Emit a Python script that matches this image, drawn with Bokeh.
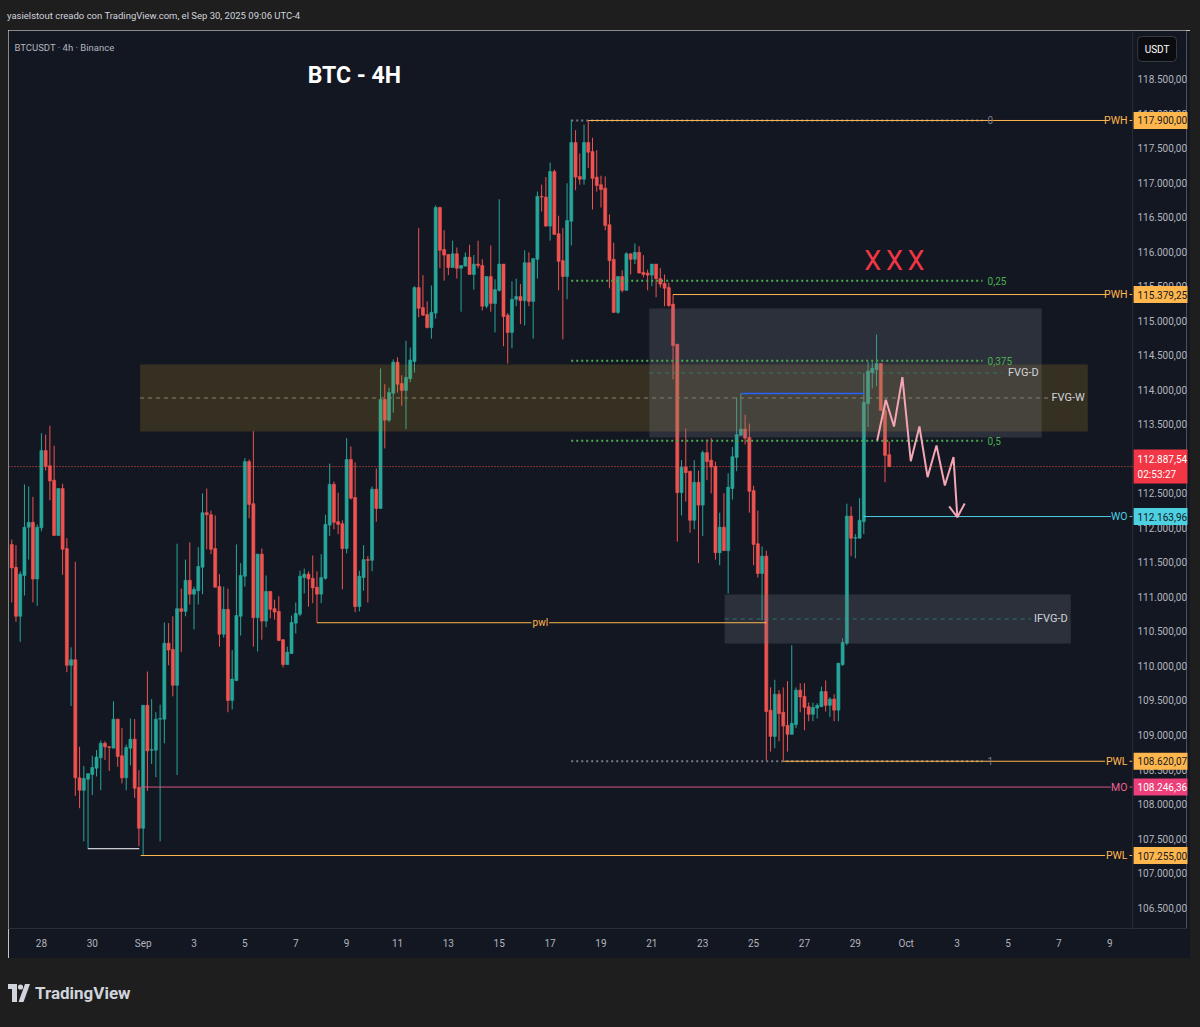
import numpy as np
from bokeh.plotting import figure
from bokeh.models import Label, FixedTicker, Div, Span
from bokeh.layouts import column, row
from bokeh.embed import file_html
from bokeh.resources import INLINE
from bokeh.core.properties import value

FONT = "Roboto"

# ---------------- DATA (BTCUSDT 4h, Binance) ----------------
# first candle: Aug 26 20:00 (UTC-4), one candle every 4 hours
opens = [111760, 111430, 110720, 111310, 112010, 112080, 111260, 112000, 113120, 112900,
         112690, 111890, 112570, 111700, 110010, 110090, 108380, 108200, 108360, 108430,
         108520, 108670, 108880, 108830, 108810, 109230, 108700, 108380, 108810, 108940,
         108240, 107650, 109430, 108780, 108780, 109230, 109230, 110330, 110240, 109720,
         110830, 110790, 111240, 111040, 111090, 111430, 112220, 112190, 111700, 111150,
         110460, 110820, 109500, 109790, 110720, 111300, 112960, 112350, 110700, 111620,
         110650, 111080, 110830, 110790, 110380, 110020, 110180, 110620, 110750, 111280,
         111330, 111270, 111140, 111040, 111270, 112040, 112630, 112090, 112060, 111700,
         112990, 112440, 110860, 111280, 111540, 111530, 112560, 112280, 113860, 113560,
         113950, 114400, 114090, 113990, 114160, 114410, 115480, 115190, 115090, 114900,
         115110, 116640, 116030, 115960, 115770, 115970, 115760, 115790, 115920, 115670,
         115820, 115800, 115210, 115640, 115250, 115440, 115820, 115080, 114830, 115310,
         115350, 115290, 115840, 115280, 115890, 116800, 116790, 116370, 117160, 116260,
         115870, 115640, 116440, 117580, 117090, 117050, 117580, 117450, 117080, 116970,
         116920, 116390, 115890, 115120, 115640, 115440, 115970, 115890, 115990, 115700,
         115690, 115660, 115820, 115610, 115540, 115480, 115240, 114660, 112510, 112880,
         112820, 112110, 112660, 112330, 113090, 112980, 112890, 111640, 112010, 111670,
         112570, 113020, 113340, 113430, 113310, 112540, 111770, 111340, 111590, 109360,
         108980, 109590, 109330, 109140, 109010, 109150, 109650, 109560, 109410, 109300,
         109390, 109410, 109630, 109430, 109520, 109360, 110020, 110330, 112170, 111850,
         111850, 112090, 113800, 114250, 114290, 114380, 113700, 113060]
highs = [111830, 111750, 111370, 112630, 112600, 112450, 112050, 113370, 113350, 113480,
         113190, 112570, 112640, 111850, 110270, 111510, 108830, 108550, 108450, 108700,
         108780, 108920, 108910, 108840, 109490, 109230, 109100, 108860, 109240, 109230,
         108490, 109430, 109920, 109520, 109330, 109440, 110630, 110620, 110720, 111770,
         111120, 111540, 111790, 111150, 111720, 112500, 112570, 112250, 112180, 111330,
         111150, 111120, 110230, 111760, 111490, 113010, 112990, 113400, 111620, 111700,
         111310, 111080, 110960, 111010, 110390, 110280, 110730, 110920, 111380, 111410,
         111370, 111600, 111370, 111620, 112190, 112930, 112670, 112510, 112110, 113300,
         113180, 112950, 111380, 111750, 111590, 112600, 112860, 114310, 114080, 114030,
         114440, 114470, 114210, 114710, 114610, 115500, 116340, 115660, 115280, 115510,
         116670, 116650, 116310, 115960, 116160, 116060, 115800, 115990, 116100, 115950,
         116160, 115890, 115640, 116090, 115600, 116760, 115820, 115110, 115570, 115610,
         115530, 116020, 115990, 115900, 116870, 116970, 117080, 117290, 117190, 116520,
         116340, 116990, 117910, 117760, 117420, 117840, 117900, 117650, 117470, 117100,
         117090, 116540, 116130, 115640, 115730, 115990, 115970, 116120, 116080, 115950,
         115740, 115820, 115820, 115760, 115670, 115550, 115380, 114660, 112980, 113440,
         112820, 112980, 112830, 113120, 113280, 113300, 112960, 112220, 112500, 112790,
         113170, 113890, 113950, 113640, 113510, 112610, 112250, 111730, 111670, 109690,
         109800, 109650, 109690, 109780, 110300, 109690, 109750, 109750, 109470, 109470,
         109460, 109700, 109790, 109550, 109590, 110040, 110400, 112350, 112310, 111910,
         112430, 114240, 114400, 114400, 114800, 114380, 113850, 113250]
lows = [110920, 110640, 110350, 111020, 111540, 110920, 110870, 111950, 112830, 112400,
        111890, 111880, 111320, 109910, 109420, 108120, 107940, 107460, 107350, 108130,
        108400, 108200, 108640, 108480, 108810, 108540, 108300, 108200, 108560, 108090,
        107390, 107255, 108190, 108580, 108390, 107460, 108880, 110010, 109560, 108420,
        110200, 110720, 110890, 110530, 110890, 111040, 111690, 111620, 111140, 110280,
        110410, 109330, 109370, 109780, 110440, 111150, 112140, 110280, 110210, 110380,
        110560, 110690, 110670, 110360, 109980, 110020, 110180, 110470, 110720, 111050,
        110860, 110910, 110630, 110910, 111250, 111880, 111980, 111910, 111110, 111630,
        112410, 110780, 110790, 111090, 110920, 111370, 112090, 112280, 113150, 113530,
        113670, 113960, 113770, 113430, 114110, 114250, 115050, 115070, 114890, 114740,
        115030, 115760, 115580, 115660, 115770, 115610, 115130, 115790, 115670, 115450,
        115760, 115150, 115180, 115130, 114830, 115420, 114630, 114380, 114600, 115210,
        114950, 114930, 115210, 114740, 115610, 116580, 116360, 116160, 116250, 115440,
        114730, 115310, 116090, 116890, 116970, 116970, 117210, 116610, 116870, 116640,
        116310, 115470, 115120, 115100, 115410, 115440, 115670, 115820, 115690, 115630,
        115440, 115500, 115340, 115480, 115210, 115200, 114150, 111800, 112180, 112380,
        111930, 111980, 111490, 111880, 112690, 112500, 111540, 111460, 111670, 111050,
        112410, 112820, 113340, 113210, 112220, 111460, 111280, 110660, 108630, 108760,
        108810, 108910, 108620, 108760, 109010, 109100, 109330, 109070, 109200, 109200,
        109240, 109410, 109340, 109260, 109200, 109200, 110000, 110300, 111590, 111560,
        111850, 111910, 113460, 114020, 114050, 113700, 112660, 112880]
closes = [111420, 110720, 111330, 112010, 112080, 111260, 112010, 113120, 112890, 112680,
          111890, 112570, 111690, 110010, 110090, 108380, 108200, 108370, 108440, 108530,
          108680, 108880, 108830, 108820, 109230, 108690, 108380, 108820, 108940, 108230,
          107650, 109430, 108770, 108790, 109230, 109240, 110330, 110230, 109720, 110830,
          110790, 111240, 111040, 111110, 111440, 112220, 112190, 111690, 111140, 110460,
          110820, 109500, 109810, 110730, 111310, 112960, 112340, 110700, 111620, 110650,
          111080, 110820, 110780, 110370, 110020, 110200, 110630, 110760, 111300, 111330,
          111260, 111130, 111040, 111280, 112050, 112630, 112080, 112050, 111700, 112990,
          112430, 110860, 111300, 111540, 111530, 112560, 112280, 113860, 113560, 113960,
          114400, 114080, 113990, 114180, 114430, 115480, 115180, 115080, 114900, 115120,
          116640, 116020, 115950, 115770, 115970, 115760, 115800, 115920, 115670, 115820,
          115800, 115210, 115640, 115250, 115450, 115820, 115060, 114830, 115310, 115350,
          115290, 115840, 115280, 115900, 116800, 116790, 116370, 117160, 116250, 115860,
          115640, 116450, 117580, 117080, 117050, 117580, 117440, 117060, 116960, 116900,
          116380, 115870, 115120, 115640, 115440, 115970, 115890, 115990, 115690, 115670,
          115660, 115820, 115610, 115530, 115470, 115220, 114640, 112510, 112880, 112800,
          112110, 112660, 112330, 113090, 112960, 112880, 111640, 112010, 111670, 112590,
          113030, 113350, 113430, 113300, 112530, 111760, 111340, 111590, 109340, 108980,
          109590, 109310, 109130, 109010, 109170, 109650, 109550, 109400, 109300, 109400,
          109430, 109630, 109430, 109520, 109360, 110040, 110340, 112170, 111850, 111860,
          112110, 113820, 114270, 114310, 114380, 113700, 113050, 112887.54]

first_bar_day = -31 / 6          # days relative to Sep 1 00:00 (UTC-4)
bar_hours = 4
last_price = 112887.54
countdown = "02:53:27"

time_tick_days = [-4, -2, 0, 2, 4, 6, 8, 10, 12, 14, 16, 18, 20, 22, 24, 26, 28, 30, 32, 34, 36, 38]
time_tick_labels = ["28", "30", "Sep", "3", "5", "7", "9", "11", "13", "15", "17", "19",
                    "21", "23", "25", "27", "29", "Oct", "3", "5", "7", "9"]
price_ticks = list(range(106500, 118501, 500))

# key levels (name, price, day they start)
level_names = ["PWH", "PWH", "WO", "PWL", "MO", "PWL"]
level_prices = [117900.00, 115379.25, 112163.96, 108620.07, 108246.36, 107255.00]
level_from_days = [17.5, 20.83, 28.33, 25.17, -0.1, -0.1]

# fibonacci retracement
fib_ratios = [0, 0.25, 0.375, 0.5, 1]
fib_texts = ["0", "0,25", "0,375", "0,5", "1"]
fib_high = 117900.00
fib_low = 108620.07
fib_from_day, fib_to_day = 16.83, 33.0

# zones
zone_names = ["FVG-W", "FVG-D", "IFVG-D"]
zone_bottoms = [113396, 113309, 110326]
zone_tops = [114366, 115177, 111036]
zone_from_days = [-0.12, 19.9, 22.86]
zone_to_days = [37.14, 35.33, 36.47]

# other drawings
pwl_price, pwl_from_day, pwl_to_day = 110626, 6.83, 24.5
low_link_price, low_link_from, low_link_to = 107353, -2.17, -0.15
blue_price, blue_from, blue_to = 113947, 23.53, 28.35
proj_days = [28.86, 29.20, 29.52, 29.85, 30.18, 30.52, 30.84, 31.19, 31.52, 31.86, 32.01]
proj_prices = [113266, 113855, 113468, 114182, 112966, 113468, 112734, 113193, 112614, 113024, 112155]
arrow_days = [31.69, 32.01, 32.30]
arrow_prices = [112310, 112155, 112353]
x_marks_days = [28.68, 29.54, 30.38]
x_marks_price = 115858

# ---------------- STYLE ----------------
BG = "#131722"
UP, DOWN = "#26a69a", "#ef5350"
ORANGE, CYAN, PINK = "#ffb74d", "#4dd0e1", "#ec407a"
AXIS_TXT = "#b2b5be"
SCALE_EDGE = 38.902       # day value at the price-scale border
PX_DAY = 25.5             # pixels per day
PX_PRICE = 14.482         # price units per pixel


def fmt(v):
    s = f"{v:,.2f}"
    return s.replace(",", "#").replace(".", ",").replace("#", ".")


p = figure(width=1182, height=928, x_range=(-5.294, 41.02), y_range=(106198, 119203),
           output_backend="svg", toolbar_location=None, y_axis_location="right",
           background_fill_color=BG, border_fill_color=BG, outline_line_color=None,
           min_border_left=0, min_border_right=0, min_border_top=0, min_border_bottom=30)
p.xgrid.visible = False
p.ygrid.visible = False

for ax in (p.xaxis[0], p.yaxis[0]):
    ax.major_tick_line_color = None
    ax.minor_tick_line_color = None
    ax.major_tick_out = 0
    ax.major_tick_in = 0
    ax.minor_tick_out = 0
    ax.minor_tick_in = 0
    ax.major_label_text_color = AXIS_TXT
    ax.major_label_text_font = FONT
    ax.major_label_text_font_size = "10px"
p.xaxis.axis_line_color = "#2a2e39"
p.xaxis.major_label_standoff = 9
p.yaxis.axis_line_color = None
p.yaxis.major_label_standoff = -49
p.xaxis.ticker = FixedTicker(ticks=time_tick_days)
p.xaxis.major_label_overrides = {d: s for d, s in zip(time_tick_days, time_tick_labels)}
p.yaxis.ticker = FixedTicker(ticks=price_ticks)
p.yaxis.major_label_overrides = {v: fmt(v) for v in price_ticks}
p.add_layout(Span(location=SCALE_EDGE, dimension="height", line_color="#2a2e39", line_width=1))

# candles
o = np.array(opens, float); h = np.array(highs, float)
l = np.array(lows, float); c = np.array(closes, float)
t = first_bar_day + np.arange(len(o)) * bar_hours / 24
cols = np.where(c >= o, UP, DOWN)
p.segment(t, h, t, l, color=cols, line_width=1)
p.vbar(x=t, width=0.12, top=np.maximum(o, c), bottom=np.minimum(o, c),
       fill_color=cols, line_color=cols, line_width=0.6)

# zones
zone_fill = {"FVG-W": ("#bd9422", 0.2), "FVG-D": ("#787b86", 0.25), "IFVG-D": ("#787b86", 0.25)}
zone_mid = {"FVG-W": ("#8c8466", 1.0), "FVG-D": ("#26a69a", 0.55), "IFVG-D": ("#26a69a", 0.55)}
for name, b, tp, f0, f1 in zip(zone_names, zone_bottoms, zone_tops, zone_from_days, zone_to_days):
    fc, fa = zone_fill[name]
    p.quad(left=f0, right=f1, bottom=b, top=tp, fill_color=fc, fill_alpha=fa, line_color=None)
    mc, ma = zone_mid[name]
    mid = (b + tp) / 2
    p.line([f0, f1 - 1.55], [mid, mid], line_color=mc, line_alpha=ma, line_dash="4 4", line_width=1)
    p.add_layout(Label(x=f1 - 0.12, y=mid, text=name, text_align="right", text_baseline="middle",
                       text_color="#d1d4dc", text_font=FONT, text_font_size="11px"))

# fib levels
for r, txt in zip(fib_ratios, fib_texts):
    lv = fib_high - r * (fib_high - fib_low)
    colr = "#787b86" if r in (0, 1) else "#4caf50"
    p.line([fib_from_day, fib_to_day], [lv, lv], line_color=colr, line_dash="2 3", line_width=2)
    p.add_layout(Label(x=fib_to_day + 0.2, y=lv, text=txt, text_align="left", text_baseline="middle",
                       text_color=colr, text_font=FONT, text_font_size="10px"))

# other lines
p.line([pwl_from_day, pwl_to_day], [pwl_price, pwl_price], line_color=ORANGE, line_width=1)
p.add_layout(Label(x=(pwl_from_day + pwl_to_day) / 2 - 0.05, y=pwl_price, text="pwl", text_align="center",
                   text_baseline="middle", text_color=ORANGE, text_font=FONT, text_font_size="10px",
                   background_fill_color=BG, padding=1))
p.line([low_link_from, low_link_to], [low_link_price, low_link_price], line_color="#ffffff", line_width=1)
p.line([blue_from, blue_to], [blue_price, blue_price], line_color="#2962ff", line_width=1.5)

# key levels
lvl_line = {"PWH": ORANGE, "PWL": ORANGE, "WO": CYAN, "MO": "#d4577f"}
lvl_text = {"PWH": ORANGE, "PWL": ORANGE, "WO": CYAN, "MO": "#f06292"}
lvl_box = {"PWH": ORANGE, "PWL": ORANGE, "WO": CYAN, "MO": PINK}
lvl_box_txt = {"PWH": "#131722", "PWL": "#131722", "WO": "#131722", "MO": "#ffffff"}
for name, pr, f0 in zip(level_names, level_prices, level_from_days):
    end = 37.82 if name in ("PWH", "PWL") else 38.05
    p.line([f0, end], [pr, pr], line_color=lvl_line[name], line_width=1)
    p.line([38.78, 38.92], [pr, pr], line_color=lvl_line[name], line_width=1)
    p.add_layout(Label(x=38.7, y=pr, text=name, text_align="right", text_baseline="middle",
                       text_color=lvl_text[name], text_font=FONT, text_font_size="10.5px"))

# last price line
p.add_layout(Span(location=last_price, dimension="width", line_color=DOWN, line_dash="1 2", line_width=1))

# price tags on the price scale (drawn above the axis labels)
tag_x = SCALE_EDGE + 28 / PX_DAY
tag_w = 54 / PX_DAY
p.rect(x=[tag_x] * len(level_prices), y=level_prices, width=tag_w, height=17 * PX_PRICE,
       fill_color=[lvl_box[n] for n in level_names], line_color=None, level="overlay")
p.rect(x=[tag_x], y=[last_price], width=tag_w, height=34 * PX_PRICE,
       fill_color="#f23645", line_color=None, level="overlay")
txt_x = SCALE_EDGE + 5 / PX_DAY
p.text(x=[txt_x] * len(level_prices), y=level_prices, text=[fmt(v) for v in level_prices],
       text_color=[lvl_box_txt[n] for n in level_names], text_font=value(FONT), text_font_size="10px",
       text_align="left", text_baseline="middle", level="overlay")
p.text(x=[txt_x, txt_x], y=[last_price, last_price], text=[fmt(last_price), countdown],
       y_offset=[-8, 8], text_color="#ffffff", text_font=value(FONT), text_font_size="10px",
       text_align="left", text_baseline="middle", level="overlay")

# projection zigzag
p.line(proj_days, proj_prices, line_color="#f4a6b4", line_width=2)
p.line(arrow_days, arrow_prices, line_color="#f4a6b4", line_width=2)

# red X marks
for d in x_marks_days:
    p.add_layout(Label(x=d, y=x_marks_price, text="X", text_align="center", text_baseline="middle",
                       text_color="#f23645", text_font=FONT, text_font_size="27px"))

# texts
p.add_layout(Label(x=-5.06, y=118957, text="BTCUSDT · 4h · Binance", text_align="left",
                   text_baseline="middle", text_color=AXIS_TXT, text_font=FONT, text_font_size="9.5px"))
p.add_layout(Label(x=6.47, y=118552, text="BTC - 4H", text_align="left", text_baseline="middle",
                   text_color="#ffffff", text_font=FONT, text_font_size="23px", text_font_style="bold"))
p.add_layout(Label(x=39.1, y=118935, text="USDT", text_align="left", text_baseline="middle",
                   text_color="#ffffff", text_font=FONT, text_font_size="10px",
                   background_fill_color="#0b0c0f", border_line_color="#363a45", padding=7, border_radius=4))

DARK = "#1e1e1e"
header = Div(text='<div style="padding-left:7px;line-height:32px;font-family:Roboto;'
                  'font-size:9.5px;color:#d1d4dc;white-space:nowrap;">'
                  'yasielstout creado con TradingView.com, el Sep 30, 2025 09:06 UTC-4</div>',
             width=1200, height=30, margin=0, styles={"background-color": DARK})
left_pad = Div(text="", width=8, height=928, margin=0, styles={"background-color": DARK})
right_pad = Div(text="", width=10, height=928, margin=0, styles={"background-color": DARK})
footer = Div(text='<div style="position:relative;width:1200px;height:69px;">'
                  '<svg style="position:absolute;left:8px;top:26px" width="22" height="18" viewBox="0 0 22 18">'
                  '<path d="M0 0 H9 V18 H4 V5 H0 Z" fill="#d1d4dc"/>'
                  '<circle cx="12.5" cy="3" r="2.6" fill="#d1d4dc"/>'
                  '<path d="M10.5 18 L17 0 H22 L15.5 18 Z" fill="#d1d4dc"/></svg>'
                  '<span style="position:absolute;left:35px;top:23px;font-family:Roboto;'
                  'font-size:17px;font-weight:bold;color:#d1d4dc;">TradingView</span></div>',
             width=1200, height=69, margin=0, styles={"background-color": DARK})

layout = column(header, row(left_pad, p, right_pad, spacing=0), footer, spacing=0)
open("out.html", "w").write(file_html(layout, INLINE))
